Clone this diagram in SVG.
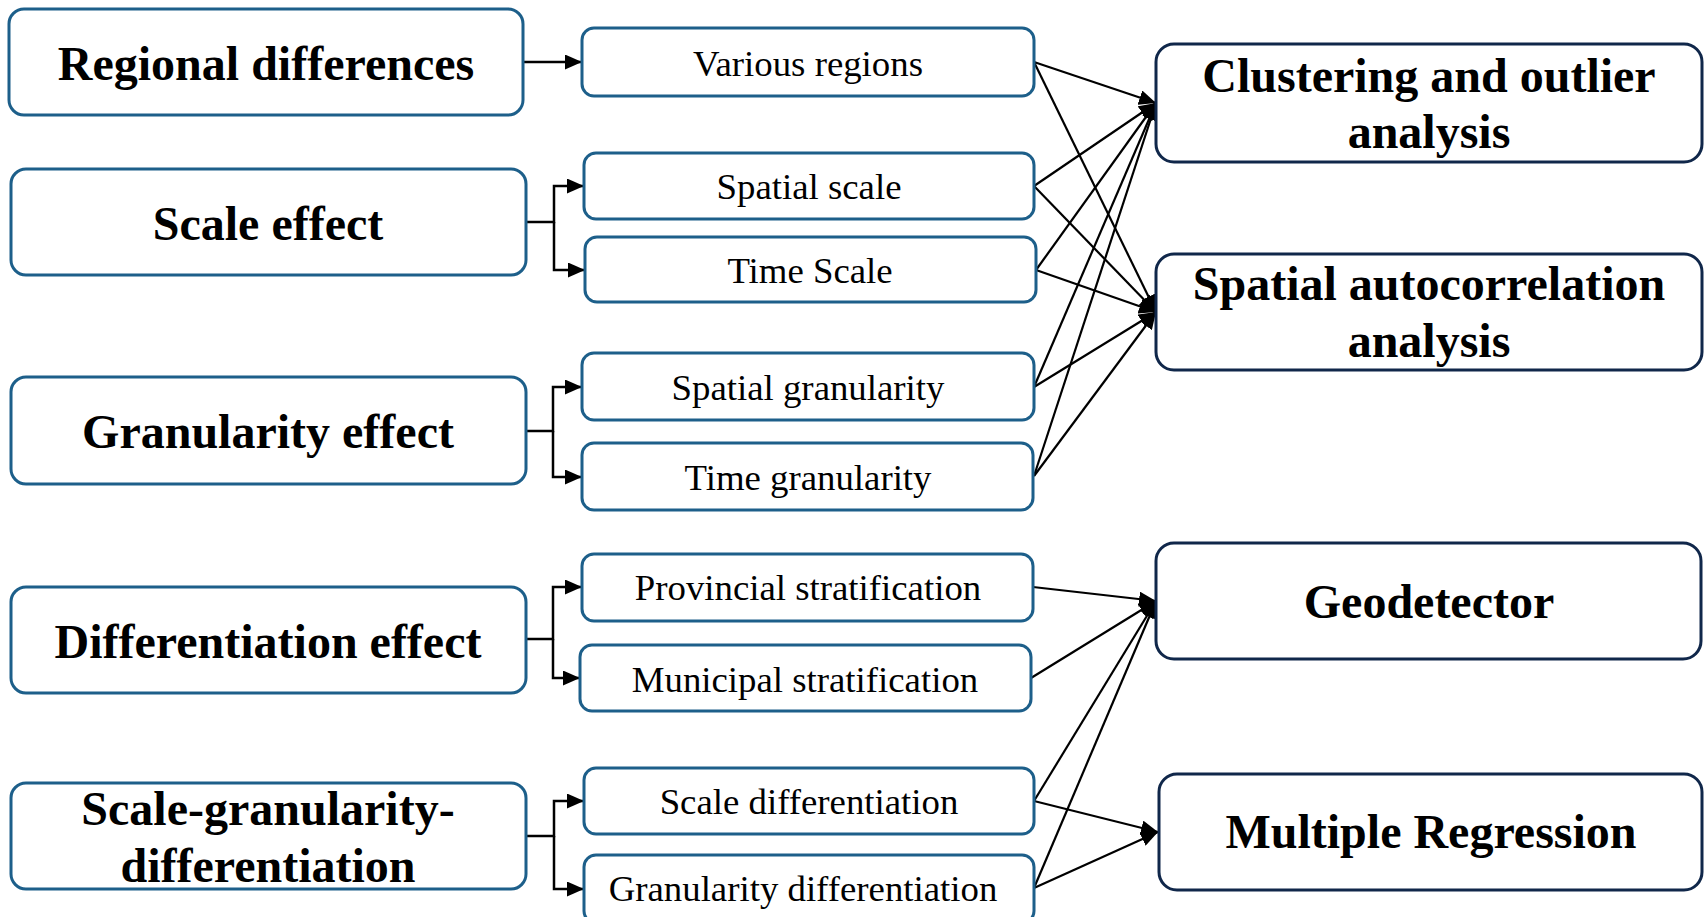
<svg xmlns="http://www.w3.org/2000/svg" width="1705" height="917" viewBox="0 0 1705 917">
<defs>
<marker id="ah" viewBox="0 0 17 15" refX="17" refY="7.5" markerWidth="17" markerHeight="15" markerUnits="userSpaceOnUse" orient="auto">
<path d="M0,0 L17,7.5 L0,15 z" fill="#000"/>
</marker>
<style>
.lbox{fill:#fff;stroke:#1d5f8a;stroke-width:3}
.mbox{fill:#fff;stroke:#1d5f8a;stroke-width:3}
.rbox{fill:#fff;stroke:#10274a;stroke-width:3}
.bt{font-family:"Liberation Serif","Times New Roman",serif;font-weight:bold;font-size:48px;fill:#000;text-anchor:middle}
.rt{font-family:"Liberation Serif","Times New Roman",serif;font-size:36.8px;fill:#000;text-anchor:middle}
.c{fill:none;stroke:#000;stroke-width:2.5}
.d{fill:none;stroke:#000;stroke-width:2.2}
</style>
</defs>
<rect width="1705" height="917" fill="#fff"/>

<g id="connectors">
<line class="c" x1="524" y1="62" x2="582" y2="62" marker-end="url(#ah)"/>
<path class="c" d="M526,222 H554 V186 H584" marker-end="url(#ah)"/>
<path class="c" d="M554,222 V270 H585" marker-end="url(#ah)"/>
<path class="c" d="M526,431 H553 V387 H582" marker-end="url(#ah)"/>
<path class="c" d="M553,431 V477 H582" marker-end="url(#ah)"/>
<path class="c" d="M526,639 H553 V587 H582" marker-end="url(#ah)"/>
<path class="c" d="M553,639 V678 H580" marker-end="url(#ah)"/>
<path class="c" d="M526,836 H554 V801 H584" marker-end="url(#ah)"/>
<path class="c" d="M554,836 V889 H584" marker-end="url(#ah)"/>

<line class="d" x1="1034" y1="62" x2="1156" y2="103" marker-end="url(#ah)"/>
<line class="d" x1="1034" y1="186" x2="1156" y2="103" marker-end="url(#ah)"/>
<line class="d" x1="1036" y1="270" x2="1156" y2="103" marker-end="url(#ah)"/>
<line class="d" x1="1034" y1="387" x2="1156" y2="103" marker-end="url(#ah)"/>
<line class="d" x1="1034" y1="476" x2="1156" y2="103" marker-end="url(#ah)"/>

<line class="d" x1="1034" y1="62" x2="1156" y2="312" marker-end="url(#ah)"/>
<line class="d" x1="1034" y1="186" x2="1156" y2="312" marker-end="url(#ah)"/>
<line class="d" x1="1036" y1="270" x2="1156" y2="312" marker-end="url(#ah)"/>
<line class="d" x1="1034" y1="387" x2="1156" y2="312" marker-end="url(#ah)"/>
<line class="d" x1="1034" y1="476" x2="1156" y2="312" marker-end="url(#ah)"/>

<line class="d" x1="1033" y1="587" x2="1156" y2="601" marker-end="url(#ah)"/>
<line class="d" x1="1031" y1="678" x2="1156" y2="601" marker-end="url(#ah)"/>
<line class="d" x1="1034" y1="801" x2="1156" y2="601" marker-end="url(#ah)"/>
<line class="d" x1="1034" y1="888" x2="1156" y2="601" marker-end="url(#ah)"/>

<line class="d" x1="1034" y1="801" x2="1158" y2="832" marker-end="url(#ah)"/>
<line class="d" x1="1034" y1="888" x2="1158" y2="832" marker-end="url(#ah)"/>
</g>

<g id="regional-differences"><rect class="lbox" x="9" y="9" width="514" height="106" rx="15"/><text class="bt" x="266" y="80">Regional differences</text></g>
<g id="scale-effect"><rect class="lbox" x="11" y="169" width="515" height="106" rx="15"/><text class="bt" x="268" y="240">Scale effect</text></g>
<g id="granularity-effect"><rect class="lbox" x="11" y="377" width="515" height="107" rx="15"/><text class="bt" x="268" y="448">Granularity effect</text></g>
<g id="differentiation-effect"><rect class="lbox" x="11" y="587" width="515" height="106" rx="15"/><text class="bt" x="268" y="658">Differentiation effect</text></g>
<g id="scale-granularity-differentiation"><rect class="lbox" x="11" y="783" width="515" height="106" rx="15"/><text class="bt" x="268" y="825">Scale-granularity-</text><text class="bt" x="268" y="882">differentiation</text></g>

<g id="various-regions"><rect class="mbox" x="582" y="28" width="452" height="68" rx="12"/><text class="rt" x="808" y="76">Various regions</text></g>
<g id="spatial-scale"><rect class="mbox" x="584" y="153" width="450" height="66" rx="12"/><text class="rt" x="809" y="199">Spatial scale</text></g>
<g id="time-scale"><rect class="mbox" x="585" y="237" width="451" height="65" rx="12"/><text class="rt" x="810" y="283">Time Scale</text></g>
<g id="spatial-granularity"><rect class="mbox" x="582" y="353" width="452" height="67" rx="12"/><text class="rt" x="808" y="400">Spatial granularity</text></g>
<g id="time-granularity"><rect class="mbox" x="582" y="443" width="451" height="67" rx="12"/><text class="rt" x="808" y="490">Time granularity</text></g>
<g id="provincial-stratification"><rect class="mbox" x="582" y="554" width="451" height="67" rx="12"/><text class="rt" x="808" y="600">Provincial stratification</text></g>
<g id="municipal-stratification"><rect class="mbox" x="580" y="645" width="451" height="66" rx="12"/><text class="rt" x="805" y="692">Municipal stratification</text></g>
<g id="scale-differentiation"><rect class="mbox" x="584" y="768" width="450" height="66" rx="12"/><text class="rt" x="809" y="814">Scale differentiation</text></g>
<g id="granularity-differentiation"><rect class="mbox" x="584" y="855" width="450" height="68" rx="12"/><text class="rt" x="803" y="901">Granularity differentiation</text></g>

<g id="clustering"><rect class="rbox" x="1156" y="44" width="546" height="118" rx="18"/><text class="bt" x="1429" y="92">Clustering and outlier</text><text class="bt" x="1429" y="148">analysis</text></g>
<g id="spatial-autocorrelation"><rect class="rbox" x="1156" y="254" width="546" height="116" rx="18"/><text class="bt" x="1429" y="300">Spatial autocorrelation</text><text class="bt" x="1429" y="357">analysis</text></g>
<g id="geodetector"><rect class="rbox" x="1156" y="543" width="545" height="116" rx="18"/><text class="bt" x="1429" y="618">Geodetector</text></g>
<g id="multiple-regression"><rect class="rbox" x="1159" y="774" width="543" height="116" rx="18"/><text class="bt" x="1431" y="848">Multiple Regression</text></g>
</svg>
